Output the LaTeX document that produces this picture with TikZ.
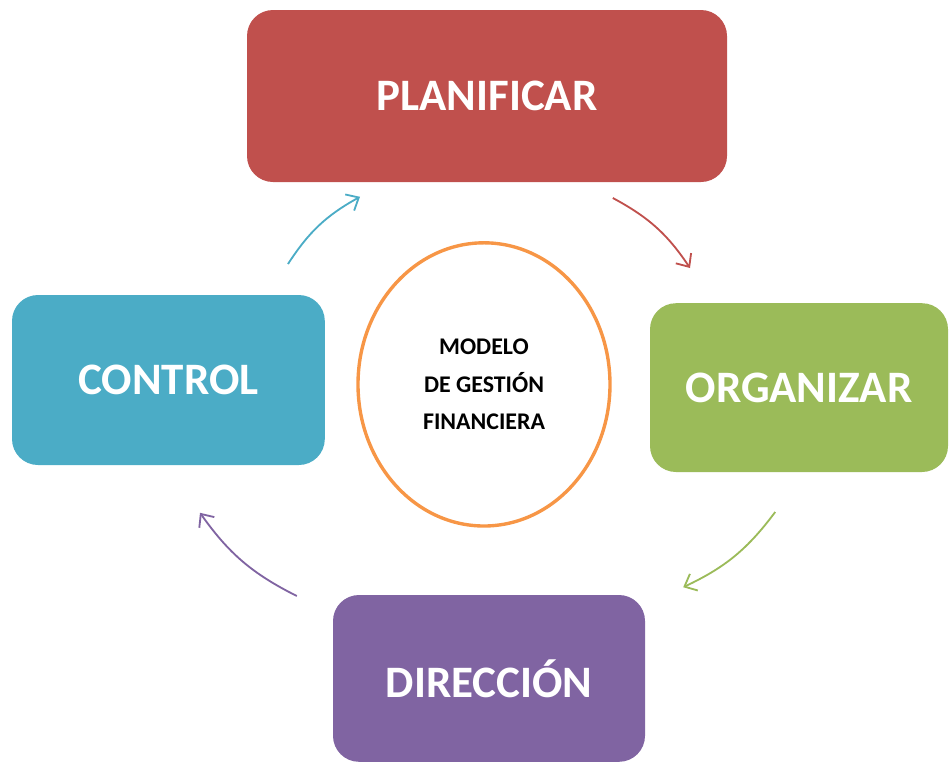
\documentclass[tikz,border=0pt]{standalone}
\usepackage{fontspec}
\setmainfont{Carlito}
\usepackage{xcolor}
\usepackage{tikz}
\usetikzlibrary{arrows.meta,positioning,shapes.geometric}

\definecolor{planred}{HTML}{C0504D}
\definecolor{orggreen}{HTML}{9BBB59}
\definecolor{dirpurple}{HTML}{8064A2}
\definecolor{ctrlblue}{HTML}{4BACC6}
\definecolor{coreorange}{HTML}{F79646}

\begin{document}
\begin{tikzpicture}[
    phase/.style={rounded corners=0.65cm, align=center, text=white, font=\bfseries\fontsize{32}{38}\selectfont},
    core/.style={ellipse, draw=coreorange, line width=2.4pt, fill=white, minimum width=6.3cm, minimum height=7.08cm, align=center, font=\bfseries\fontsize{17}{26.5}\selectfont},
    cycle/.style={-{Straight Barb[length=2.6mm,width=4.6mm]}, line width=1.3pt, bend left=14}
]
\useasboundingbox (0,0) rectangle (23.725,-19.075);

% the four phases round the model
\node[phase, fill=planred, minimum width=12cm, minimum height=4.3cm] (plan) at (12.175,-2.4) {PLANIFICAR};
\node[phase, fill=orggreen, minimum width=7.45cm, minimum height=4.22cm] (org) at (19.975,-9.69) {ORGANIZAR};
\node[phase, fill=dirpurple, minimum width=7.8cm, minimum height=4.17cm] (dir) at (12.225,-16.96) {DIRECCIÓN};
\node[phase, fill=ctrlblue, minimum width=7.82cm, minimum height=4.25cm] (ctrl) at (4.21,-9.5) {CONTROL};

\node[core] (model) at (12.1,-9.61) {MODELO\\DE GESTIÓN\\FINANCIERA};

% arrow ends
\coordinate (ctrlout) at (7.2,-6.6);
\coordinate (planin) at (9.0,-4.92);
\coordinate (planout) at (15.32,-4.95);
\coordinate (orgin) at (17.25,-6.7);
\coordinate (orgout) at (19.38,-12.8);
\coordinate (dirin) at (17.08,-14.68);
\coordinate (dirout) at (7.42,-14.9);
\coordinate (ctrlin) at (5.0,-12.82);

\draw[cycle, draw=ctrlblue] (ctrlout) to (planin);
\draw[cycle, draw=planred] (planout) to (orgin);
\draw[cycle, draw=orggreen] (orgout) to (dirin);
\draw[cycle, draw=dirpurple] (dirout) to (ctrlin);
\end{tikzpicture}
\end{document}
